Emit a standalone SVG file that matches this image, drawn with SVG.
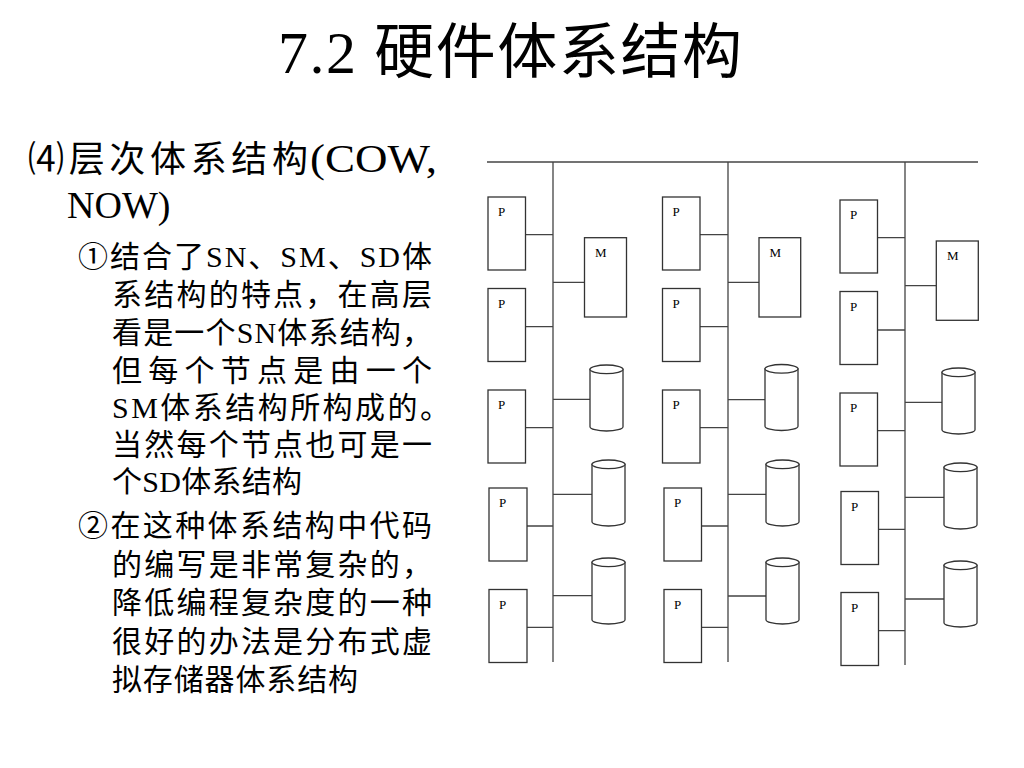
<svg xmlns="http://www.w3.org/2000/svg" xmlns:xlink="http://www.w3.org/1999/xlink" width="1024" height="768" viewBox="0 0 1024 768">
<style>
.t{font-family:"Liberation Serif","Noto Sans CJK SC",serif;fill:#000}
.box{fill:#fff;stroke:#333;stroke-width:1.3}
.lbl{font-family:"Liberation Serif",serif;font-size:13px;fill:#000}
.ln{stroke:#444;stroke-width:1.3;fill:none}
.cyl{fill:#fff;stroke:#333;stroke-width:1.3}
</style>
<defs>
<g id="cyl">
<path class="cyl" d="M0,4.3 V61.7 A16.5,4.3 0 0 0 33,61.7 V4.3 Z"/>
<ellipse class="cyl" cx="16.5" cy="4.3" rx="16.5" ry="4.3"/>
</g>
</defs>
<rect width="1024" height="768" fill="#fff"/>
<text class="t" x="278" y="73" font-size="60" textLength="464" lengthAdjust="spacing">7.2 硬件体系结构</text>
<g id="text">
<text class="t" x="28" y="172" font-size="36" textLength="280" lengthAdjust="spacing">⑷层次体系结构</text>
<text class="t" x="310" y="172" font-size="40" textLength="127" lengthAdjust="spacingAndGlyphs">(COW,</text>
<text class="t" x="67" y="218" font-size="38">NOW)</text>
<text class="t" x="78" y="267" font-size="30" textLength="354" lengthAdjust="spacing">①结合了SN、SM、SD体</text>
<text class="t" x="112" y="305" font-size="30" textLength="320" lengthAdjust="spacing">系结构的特点，在高层</text>
<text class="t" x="112" y="343" font-size="30" textLength="320" lengthAdjust="spacing">看是一个SN体系结构，</text>
<text class="t" x="112" y="381" font-size="30" textLength="320" lengthAdjust="spacing">但每个节点是由一个</text>
<text class="t" x="112" y="418" font-size="30" textLength="338" lengthAdjust="spacing">SM体系结构所构成的。</text>
<text class="t" x="112" y="455" font-size="30" textLength="320" lengthAdjust="spacing">当然每个节点也可是一</text>
<text class="t" x="112" y="492" font-size="30" textLength="190" lengthAdjust="spacing">个SD体系结构</text>
<text class="t" x="78" y="536" font-size="30" textLength="354" lengthAdjust="spacing">②在这种体系结构中代码</text>
<text class="t" x="112" y="575" font-size="30" textLength="320" lengthAdjust="spacing">的编写是非常复杂的，</text>
<text class="t" x="112" y="613" font-size="30" textLength="320" lengthAdjust="spacing">降低编程复杂度的一种</text>
<text class="t" x="112" y="652" font-size="30" textLength="320" lengthAdjust="spacing">很好的办法是分布式虚</text>
<text class="t" x="112" y="690" font-size="30" textLength="246" lengthAdjust="spacing">拟存储器体系结构</text>
</g>
<g id="connectors" class="ln">
<path d="M487,162 H978"/>
<path d="M553,162 V662 M728,162 V662 M905,162 V665"/>
<path d="M525.5,234.7 H553 M525.5,326.7 H553 M525.5,427.7 H553 M527,526 H553 M527,627.3 H553"/>
<path d="M553,282.3 H584.5 M553,399.3 H590 M553,494.3 H592 M553,595.7 H592"/>
<path d="M700,234.7 H728 M700,326.7 H728 M700,427.7 H728 M701.5,526 H728 M701.5,627.3 H728"/>
<path d="M728,282.3 H759 M728,399.7 H765 M728,494.3 H766 M728,596 H766"/>
<path d="M877.5,237.7 H905 M877.5,330 H905 M877.5,430.7 H905 M879,529.3 H905 M879,630.7 H905"/>
<path d="M905,285.7 H936.3 M905,402.3 H942 M905,497.3 H944 M905,599 H944"/>
</g>
<g id="p1-1"><rect class="box" x="488" y="197" width="37.5" height="73"/><text class="lbl" x="498" y="216">P</text></g>
<g id="p1-2"><rect class="box" x="488" y="288.5" width="37.5" height="73"/><text class="lbl" x="498" y="307.5">P</text></g>
<g id="p1-3"><rect class="box" x="488" y="390" width="37.5" height="73"/><text class="lbl" x="498" y="409">P</text></g>
<g id="p1-4"><rect class="box" x="489" y="488" width="38" height="73"/><text class="lbl" x="499" y="507">P</text></g>
<g id="p1-5"><rect class="box" x="489" y="589.5" width="38" height="73"/><text class="lbl" x="499" y="608.5">P</text></g>
<g id="m1"><rect class="box" x="584.5" y="237.7" width="42" height="79.3"/><text class="lbl" x="595" y="257">M</text></g>
<g id="d1-1"><use xlink:href="#cyl" x="590" y="365"/></g>
<g id="d1-2"><use xlink:href="#cyl" x="592" y="460"/></g>
<g id="d1-3"><use xlink:href="#cyl" x="592" y="558"/></g>
<g id="p2-1"><rect class="box" x="662.5" y="197" width="37.5" height="73"/><text class="lbl" x="672.5" y="216">P</text></g>
<g id="p2-2"><rect class="box" x="662.5" y="288.5" width="37.5" height="73"/><text class="lbl" x="672.5" y="307.5">P</text></g>
<g id="p2-3"><rect class="box" x="662.5" y="390" width="37.5" height="73"/><text class="lbl" x="672.5" y="409">P</text></g>
<g id="p2-4"><rect class="box" x="664" y="488" width="37.5" height="73"/><text class="lbl" x="674" y="507">P</text></g>
<g id="p2-5"><rect class="box" x="664" y="589.5" width="37.5" height="73"/><text class="lbl" x="674" y="608.5">P</text></g>
<g id="m2"><rect class="box" x="759" y="237.7" width="41.7" height="79.3"/><text class="lbl" x="769.5" y="257">M</text></g>
<g id="d2-1"><use xlink:href="#cyl" x="765" y="364.5"/></g>
<g id="d2-2"><use xlink:href="#cyl" x="766" y="460"/></g>
<g id="d2-3"><use xlink:href="#cyl" x="766" y="558"/></g>
<g id="p3-1"><rect class="box" x="840" y="200" width="37.5" height="73"/><text class="lbl" x="850" y="219">P</text></g>
<g id="p3-2"><rect class="box" x="840" y="291.5" width="37.5" height="73"/><text class="lbl" x="850" y="310.5">P</text></g>
<g id="p3-3"><rect class="box" x="840" y="393" width="37.5" height="73"/><text class="lbl" x="850" y="412">P</text></g>
<g id="p3-4"><rect class="box" x="841" y="491.5" width="37.5" height="73"/><text class="lbl" x="851" y="510.5">P</text></g>
<g id="p3-5"><rect class="box" x="841" y="592.5" width="37.5" height="73"/><text class="lbl" x="851" y="611.5">P</text></g>
<g id="m3"><rect class="box" x="936.3" y="241" width="42" height="79.3"/><text class="lbl" x="947" y="260">M</text></g>
<g id="d3-1"><use xlink:href="#cyl" x="942" y="368"/></g>
<g id="d3-2"><use xlink:href="#cyl" x="944" y="463"/></g>
<g id="d3-3"><use xlink:href="#cyl" x="944" y="561"/></g>
</svg>
